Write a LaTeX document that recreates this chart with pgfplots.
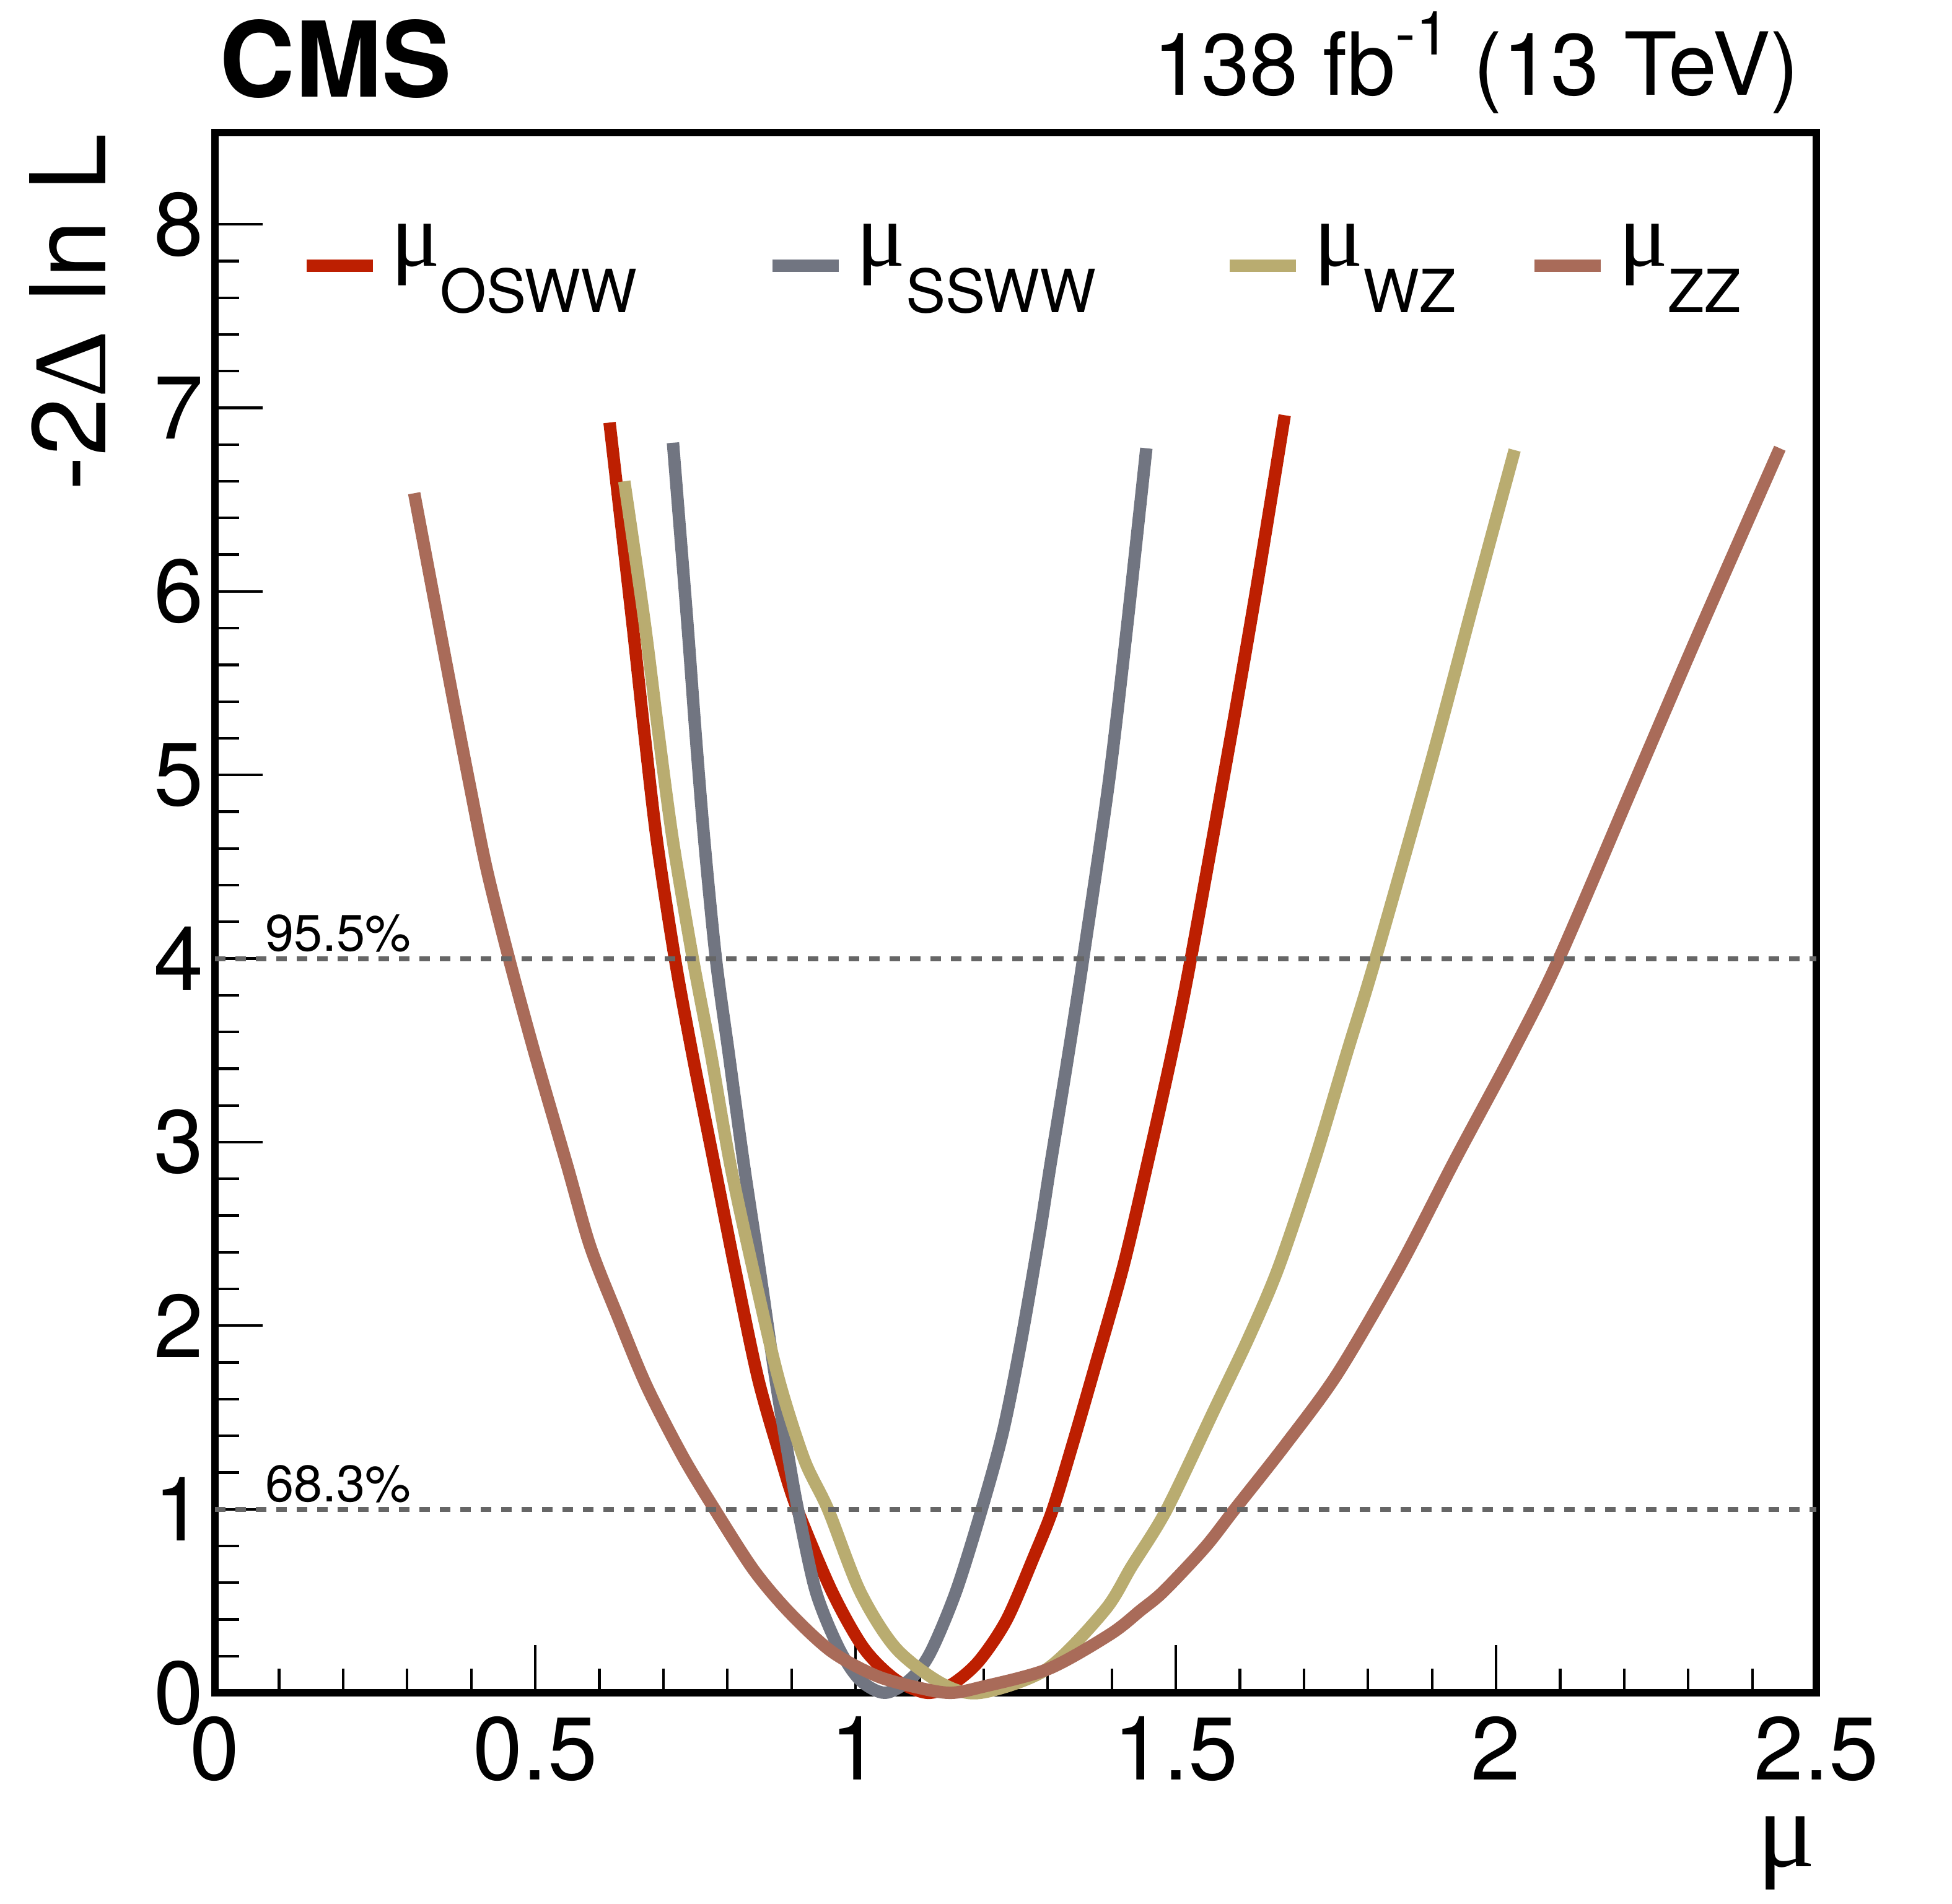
\documentclass[border=0pt]{standalone}
\usepackage{fontspec}
\setmainfont{TeX Gyre Heros}
\newfontfamily\symf{Liberation Serif}
\usepackage{pgfplots}
\pgfplotsset{compat=1.18}
\definecolor{cmsred}{HTML}{BD1F01}
\definecolor{cmsgray}{HTML}{717581}
\definecolor{cmstan}{HTML}{B9AC70}
\definecolor{cmsbrown}{HTML}{A96B59}
\definecolor{dotgray}{HTML}{666666}
\newcommand{\mmu}{{\symf μ}}
\newcommand{\legtext}[1]{{\fontsize{21}{21}\selectfont\mmu}\raisebox{-0.375cm}{\fontsize{13.7}{13.7}\selectfont #1}}
\begin{document}
\begin{tikzpicture}
\begin{axis}[
  scale only axis,
  width=12.925cm, height=12.595cm,
  xmin=0, xmax=2.5, ymin=0, ymax=8.5,
  clip=false,
  axis line style={line width=1.7pt, black},
  xtick={0,0.5,1,1.5,2,2.5},
  xticklabels={0,0.5,1,1.5,2,2.5},
  ytick={0,1,2,3,4,5,6,7,8},
  yticklabels={0,1,2,3,4,5,6,7,8},
  minor x tick num=4,
  minor y tick num=4,
  tick pos=left,
  tick align=inside,
  major tick length=0.385cm,
  minor tick length=0.195cm,
  every tick/.style={line width=0.6pt, black},
  xticklabel style={anchor=north, inner sep=0pt, yshift=-0.185cm, font=\fontsize{20.5}{20.5}\selectfont},
  yticklabel style={anchor=east, inner sep=0pt, xshift=-0.085cm, font=\fontsize{20.5}{20.5}\selectfont},
  line cap=butt,
  every axis plot/.append style={line join=round},
]
\coordinate (TL) at (rel axis cs:0,1);
\coordinate (BR) at (rel axis cs:1,0);
\coordinate (LL) at (rel axis cs:0,0);
\coordinate (UR) at (rel axis cs:1,1);

% mu_OSWW
\addplot[color=cmsred, line width=0.1cm, smooth, tension=0.5] coordinates {
(0.616,6.92) (0.651,5.85) (0.670,5.24) (0.690,4.64) (0.718,4.00) (0.745,3.485)
(0.780,2.87) (0.813,2.29) (0.848,1.71) (0.884,1.27) (0.909,1.00) (0.963,0.553)
(1.013,0.243) (1.063,0.070) (1.112,0.0) (1.150,0.045) (1.192,0.17) (1.236,0.398)
(1.279,0.746) (1.308,1.00) (1.339,1.355) (1.371,1.742) (1.418,2.323) (1.457,2.904)
(1.494,3.485) (1.523,3.99) (1.587,5.23) (1.628,6.06) (1.670,6.96)
};
% mu_SSWW
\addplot[color=cmsgray, line width=0.1cm, smooth, tension=0.5] coordinates {
(0.715,6.81) (0.737,5.85) (0.750,5.24) (0.764,4.64) (0.782,4.00) (0.802,3.485)
(0.826,2.87) (0.851,2.29) (0.875,1.71) (0.896,1.27) (0.910,1.00) (0.938,0.553)
(0.974,0.243) (1.007,0.07) (1.046,0.0) (1.086,0.075) (1.117,0.22) (1.157,0.553)
(1.197,1.00) (1.230,1.42) (1.258,1.905) (1.287,2.49) (1.304,2.87) (1.331,3.45)
(1.355,3.99) (1.395,4.95) (1.423,5.78) (1.454,6.78)
};
% mu_WZ
\addplot[color=cmstan, line width=0.1cm, smooth, tension=0.5] coordinates {
(0.639,6.60) (0.670,5.85) (0.692,5.24) (0.715,4.64) (0.746,4.00) (0.774,3.485)
(0.805,2.87) (0.841,2.29) (0.880,1.71) (0.920,1.27) (0.957,1.00) (1.007,0.553)
(1.063,0.243) (1.135,0.05) (1.195,0.0) (1.298,0.128) (1.389,0.449) (1.431,0.688)
(1.486,1.00) (1.561,1.549) (1.614,1.936) (1.661,2.323) (1.717,2.904) (1.767,3.485)
(1.811,3.99) (1.900,5.09) (1.964,5.93) (2.029,6.77)
};
% mu_ZZ
\addplot[color=cmsbrown, line width=0.1cm, smooth, tension=0.5] coordinates {
(0.311,6.535) (0.348,5.85) (0.373,5.39) (0.398,4.94) (0.424,4.49) (0.459,4.00)
(0.499,3.485) (0.550,2.87) (0.586,2.43) (0.630,2.04) (0.674,1.67) (0.730,1.29)
(0.780,1.00) (0.841,0.669) (0.897,0.437) (0.963,0.224) (1.035,0.089) (1.107,0.021)
(1.150,0.0) (1.195,0.03) (1.301,0.13) (1.398,0.32) (1.445,0.449) (1.481,0.553)
(1.546,0.794) (1.592,1.00) (1.672,1.355) (1.753,1.742) (1.850,2.323) (1.936,2.904)
(2.025,3.485) (2.097,3.99) (2.215,4.95) (2.317,5.78) (2.443,6.78)
};
% reference lines
\addplot[color=dotgray, line width=1.14pt, dash pattern=on 0.085cm off 0.08cm] coordinates {(0,4) (2.5,4)};
\addplot[color=dotgray, line width=1.14pt, dash pattern=on 0.085cm off 0.08cm] coordinates {(0,1) (2.5,1)};
\node[anchor=base west, inner sep=0pt, font=\fontsize{11.8}{11.8}\selectfont] at (axis cs:0.0774,4.04) {95.5\%};
\node[anchor=base west, inner sep=0pt, font=\fontsize{11.8}{11.8}\selectfont] at (axis cs:0.0774,1.04) {68.3\%};

% legend
\draw[cmsred, line width=0.1cm] (axis cs:0.143,7.773) -- (axis cs:0.2465,7.773);
\node[anchor=base west, inner sep=0pt] at (axis cs:0.2735,7.773) {\legtext{OSWW}};
\draw[cmsgray, line width=0.1cm] (axis cs:0.870,7.773) -- (axis cs:0.9735,7.773);
\node[anchor=base west, inner sep=0pt] at (axis cs:1.0005,7.773) {\legtext{SSWW}};
\draw[cmstan, line width=0.1cm] (axis cs:1.584,7.773) -- (axis cs:1.6875,7.773);
\node[anchor=base west, inner sep=0pt] at (axis cs:1.7145,7.773) {\legtext{WZ}};
\draw[cmsbrown, line width=0.1cm] (axis cs:2.060,7.773) -- (axis cs:2.1635,7.773);
\node[anchor=base west, inner sep=0pt] at (axis cs:2.1905,7.773) {\legtext{ZZ}};
\end{axis}
\node[rotate=90, anchor=base east, inner sep=0pt, font=\fontsize{24}{24}\selectfont] at ([xshift=-0.88cm,yshift=0cm]TL) {-2{\symf Δ} ln L};
\node[anchor=base east, inner sep=0pt, font=\fontsize{25}{25}\selectfont] at ([yshift=-1.40cm]BR) {\mmu};
\node[anchor=base west, inner sep=0pt, font=\fontsize{24}{24}\selectfont\bfseries] at ([xshift=0.03cm,yshift=0.285cm]TL) {CMS};
\node[anchor=base east, inner sep=0pt, font=\fontsize{20}{20}\selectfont] at ([xshift=-0.13cm,yshift=0.30cm]UR) {138 fb\raisebox{0.325cm}{\fontsize{14}{14}\selectfont -1} (13 TeV)};
\pgfresetboundingbox
\path[use as bounding box] ([xshift=-1.735cm,yshift=-1.70cm]LL) rectangle ([xshift=1.095cm,yshift=1.07cm]UR);
\end{tikzpicture}
\end{document}
